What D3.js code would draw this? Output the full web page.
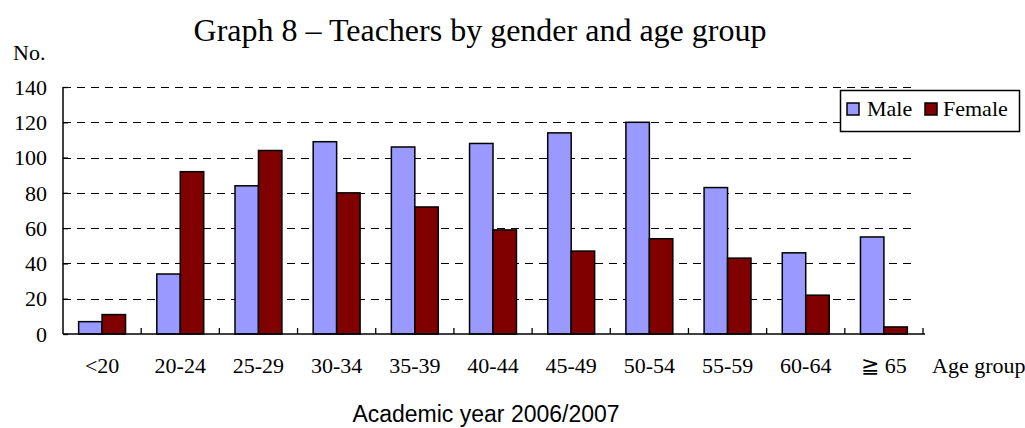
<!DOCTYPE html>
<html>
<head>
<meta charset="utf-8">
<script src="https://cdn.jsdelivr.net/npm/d3@7"></script>
<style>
  html, body { margin: 0; padding: 0; background: #fff; }
  svg { display: block; }
</style>
</head>
<body>
<svg id="chart" width="1025" height="428"></svg>
<script>
const categories = ["<20", "20-24", "25-29", "30-34", "35-39", "40-44", "45-49", "50-54", "55-59", "60-64", "\u2267 65"];
const seriesNames = ["Male", "Female"];
const maleValues = [7, 34, 84, 109, 106, 108, 114, 120, 83, 46, 55];
const femaleValues = [11, 92, 104, 80, 72, 59, 47, 54, 43, 22, 4];
const yTicks = [0, 20, 40, 60, 80, 100, 120, 140];
const colors = ["#9999FF", "#800000"];

const titleText = "Graph 8 \u2013 Teachers by gender and age group";
const yAxisTitle = "No.";
const xAxisTitle = "Age group";
const footnote = "Academic year 2006/2007";

(function () {
const svg = d3.select("#chart");
const serif = "'Liberation Serif', 'Times New Roman', serif";
const sans = "'Liberation Sans', Arial, sans-serif";

const pL = 63, pR = 923, pT = 87, pB = 334;

const x0 = d3.scaleBand().domain(categories).range([pL, pR]).paddingInner(0).paddingOuter(0);
const bw = x0.bandwidth();
const x1 = d3.scaleBand().domain(seriesNames).range([bw * 0.2, bw * 0.8]);
const y = d3.scaleLinear().domain([0, 140]).range([pB, pT]);

// gridlines
svg.append("g")
  .selectAll("line")
  .data(yTicks.filter(d => d > 0))
  .join("line")
  .attr("x1", pL).attr("x2", pR - 6)
  .attr("y1", d => Math.round(y(d)) + 0.5).attr("y2", d => Math.round(y(d)) + 0.5)
  .attr("stroke", "#000").attr("stroke-width", 1)
  .attr("stroke-dasharray", "8,6");

// bars
const data = categories.map((c, i) => ({ cat: c, values: [maleValues[i], femaleValues[i]] }));
const groups = svg.append("g").selectAll("g")
  .data(data).join("g")
  .attr("transform", d => `translate(${x0(d.cat)},0)`);
groups.selectAll("rect")
  .data(d => d.values.map((v, j) => ({ name: seriesNames[j], v, j })))
  .join("rect")
  .attr("x", d => x1(d.name))
  .attr("width", x1.bandwidth())
  .attr("y", d => y(d.v))
  .attr("height", d => y(0) - y(d.v))
  .attr("fill", d => colors[d.j])
  .attr("stroke", "#000")
  .attr("stroke-width", 1.5);

// y axis
const yAxis = d3.axisRight(y).tickValues(yTicks).tickSize(5).tickFormat("");
const gy = svg.append("g").attr("transform", `translate(${pL},0)`).call(yAxis);
gy.select(".domain").remove();
gy.selectAll(".tick line").attr("stroke", "#000").attr("stroke-width", 1.3);
svg.append("line").attr("x1", pL).attr("x2", pL).attr("y1", pT).attr("y2", pB)
  .attr("stroke", "#000").attr("stroke-width", 1.5);

// y tick labels
svg.append("g").selectAll("text")
  .data(yTicks).join("text")
  .attr("x", 47).attr("y", d => y(d))
  .attr("dy", "0.35em")
  .attr("text-anchor", "end")
  .attr("font-family", serif).attr("font-size", 22)
  .text(d => d);

// x axis
svg.append("line").attr("x1", pL).attr("x2", pR + 2).attr("y1", pB).attr("y2", pB)
  .attr("stroke", "#000").attr("stroke-width", 1.5);
const boundaries = categories.map(c => x0(c)).concat([pR]);
svg.append("g").selectAll("line")
  .data(boundaries.slice(1)).join("line")
  .attr("x1", d => d).attr("x2", d => d)
  .attr("y1", pB).attr("y2", pB - 6)
  .attr("stroke", "#000").attr("stroke-width", 1.3);

// x labels
svg.append("g").selectAll("text")
  .data(categories).join("text")
  .attr("x", d => x0(d) + bw / 2)
  .attr("y", 373)
  .attr("text-anchor", "middle")
  .attr("font-family", serif).attr("font-size", 22)
  .attr("xml:space", "preserve")
  .text(d => d);

svg.append("text").attr("x", 932).attr("y", 373)
  .attr("font-family", serif).attr("font-size", 22).text(xAxisTitle);

svg.append("text").attr("x", 13).attr("y", 60)
  .attr("font-family", serif).attr("font-size", 22).text(yAxisTitle);

svg.append("text").attr("x", 480).attr("y", 41)
  .attr("text-anchor", "middle")
  .attr("font-family", serif).attr("font-size", 32).text(titleText);

svg.append("text").attr("x", 486).attr("y", 422)
  .attr("text-anchor", "middle")
  .attr("font-family", sans).attr("font-size", 23).text(footnote);

// legend
const lg = svg.append("g");
lg.append("rect").attr("x", 840.5).attr("y", 90.5).attr("width", 179).attr("height", 41)
  .attr("fill", "#fff").attr("stroke", "#000").attr("stroke-width", 1.5);
const legendItems = [{ name: seriesNames[0], sx: 847, tx: 867 }, { name: seriesNames[1], sx: 925, tx: 943 }];
legendItems.forEach((it, i) => {
  lg.append("rect").attr("x", it.sx).attr("y", 103).attr("width", 12).attr("height", 12)
    .attr("fill", colors[i]).attr("stroke", "#000").attr("stroke-width", 1.5);
  lg.append("text").attr("x", it.tx).attr("y", 116)
    .attr("font-family", serif).attr("font-size", 22).text(it.name);
});
})();
</script>
</body>
</html>
